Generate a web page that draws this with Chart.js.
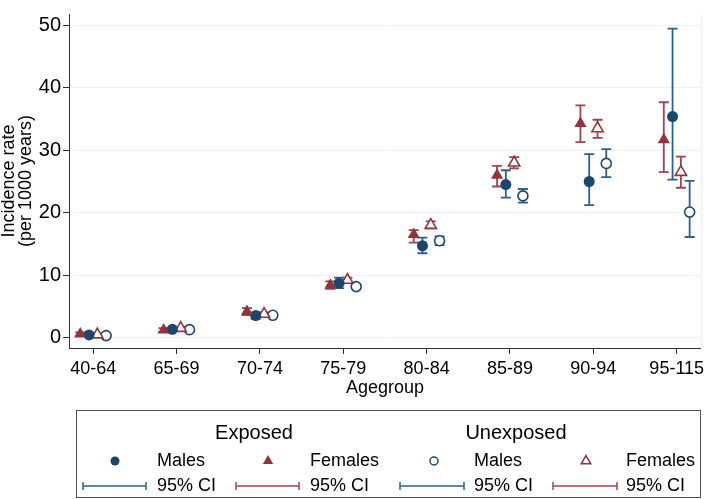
<!DOCTYPE html>
<html>
<head>
<meta charset="utf-8">
<script src="https://cdn.jsdelivr.net/npm/chart.js@4.4.1/dist/chart.umd.min.js"></script>
<style>
  html, body { margin: 0; padding: 0; background: #fff; }
  canvas { display: block; }
</style>
</head>
<body>
<canvas id="rateChart" width="709" height="499"></canvas>
<script>
// ---------- data ----------
const ageGroups = ["40-64", "65-69", "70-74", "75-79", "80-84", "85-89", "90-94", "95-115"];
const yTickValues = [0, 10, 20, 30, 40, 50];

const exposedMales     = [0.4, 1.3, 3.5, 8.7, 14.7, 24.5, 25.0, 35.4];
const exposedMalesLo   = [0.2, 1.0, 3.0, 7.9, 13.5, 22.4, 21.2, 25.3];
const exposedMalesHi   = [0.6, 1.6, 4.0, 9.6, 16.0, 26.8, 29.4, 49.5];

const exposedFemales   = [0.55, 1.2, 4.15, 8.35, 16.5, 26.0, 34.3, 31.7];
const exposedFemalesLo = [0.3, 0.9, 3.6, 7.8, 15.2, 24.2, 31.3, 26.5];
const exposedFemalesHi = [0.8, 1.5, 4.7, 9.0, 17.2, 27.5, 37.2, 37.7];

const unexposedMales     = [0.3, 1.25, 3.55, 8.15, 15.5, 22.7, 27.9, 20.1];
const unexposedMalesLo   = [0.25, 1.1, 3.35, 7.9, 14.8, 21.6, 25.7, 16.1];
const unexposedMalesHi   = [0.35, 1.4, 3.75, 8.45, 16.2, 23.8, 30.2, 25.1];

const unexposedFemales   = [0.45, 1.5, 3.75, 9.2, 18.0, 28.0, 33.5, 26.5];
const unexposedFemalesLo = [0.35, 1.3, 3.5, 8.8, 17.5, 27.1, 32.0, 24.0];
const unexposedFemalesHi = [0.55, 1.7, 4.0, 9.6, 18.6, 28.9, 34.9, 29.0];

const NAVY = "#1a476f";
const MAROON = "#90353b";
const NAVY_CI = "#2f5f8c";
const MAROON_CI = "#a0454c";
const FONT = '"Liberation Sans", Arial, Helvetica, sans-serif';

// builds one scatter dataset, markers shifted a bit around each age group
const makeSeries = (label, values, lo, hi, offset, style) => ({
  label: label,
  data: values.map((v, i) => ({ x: i + offset, y: v })),
  errLo: lo,
  errHi: hi,
  errColor: style.errColor,
  pointStyle: style.pointStyle,
  pointRadius: style.radius,
  pointHoverRadius: style.radius,
  backgroundColor: style.fill,
  borderColor: style.stroke,
  borderWidth: style.borderWidth,
  showLine: false,
});

// ---------- error bars (drawn under the markers) ----------
const errorBars = {
  id: "errorBars",
  beforeDatasetsDraw(chart) {
    const { ctx, scales: { x, y } } = chart;
    ctx.save();
    ctx.lineWidth = 1.8;
    chart.data.datasets.forEach((ds) => {
      ctx.strokeStyle = ds.errColor;
      ds.data.forEach((pt, i) => {
        const px = x.getPixelForValue(pt.x);
        const yLo = y.getPixelForValue(ds.errLo[i]);
        const yHi = y.getPixelForValue(ds.errHi[i]);
        ctx.beginPath();
        ctx.moveTo(px, yLo); ctx.lineTo(px, yHi);
        ctx.moveTo(px - 5, yLo); ctx.lineTo(px + 5, yLo);
        ctx.moveTo(px - 5, yHi); ctx.lineTo(px + 5, yHi);
        ctx.stroke();
      });
    });
    // faint right border of the plot region
    const a = chart.chartArea;
    ctx.strokeStyle = "#e4eef0";
    ctx.lineWidth = 1;
    ctx.beginPath();
    ctx.moveTo(a.right + 0.5, a.top); ctx.lineTo(a.right + 0.5, a.bottom);
    ctx.stroke();
    ctx.restore();
  },
};

// ---------- Stata style legend box ----------
const legendBox = {
  id: "legendBox",
  afterDraw(chart) {
    const ctx = chart.ctx;
    const H = Chart.helpers;
    ctx.save();
    ctx.strokeStyle = "#555";
    ctx.lineWidth = 1;
    ctx.strokeRect(76.5, 410.5, 624, 87);

    ctx.fillStyle = "#000";
    ctx.textBaseline = "middle";
    ctx.textAlign = "center";
    ctx.font = "20px " + FONT;
    ctx.fillText("Exposed", 254, 433);
    ctx.fillText("Unexposed", 516, 433);

    ctx.textAlign = "left";
    ctx.font = "18px " + FONT;
    const rowY = 461, ciY = 486;
    const cols = [
      { mx: 115, tx: 157, name: "Males", style: "circle", r: 4.5, fill: NAVY, stroke: NAVY, bw: 0, ci: NAVY_CI, l0: 83, l1: 146 },
      { mx: 268, tx: 310, name: "Females", style: "triangle", r: 6, fill: MAROON, stroke: MAROON, bw: 0, ci: MAROON_CI, l0: 236, l1: 299 },
      { mx: 434, tx: 474, name: "Males", style: "circle", r: 4, fill: "#fff", stroke: NAVY, bw: 1.5, ci: NAVY_CI, l0: 400, l1: 464 },
      { mx: 586, tx: 626, name: "Females", style: "triangle", r: 5.5, fill: "#fff", stroke: MAROON, bw: 1.5, ci: MAROON_CI, l0: 553, l1: 617 },
    ];
    cols.forEach((c) => {
      ctx.fillStyle = c.fill;
      ctx.strokeStyle = c.stroke;
      ctx.lineWidth = c.bw;
      H.drawPoint(ctx, { pointStyle: c.style, radius: c.r, rotation: 0, borderWidth: c.bw }, c.mx, rowY);
      ctx.fillStyle = "#000";
      ctx.fillText(c.name, c.tx, rowY);

      ctx.strokeStyle = c.ci;
      ctx.lineWidth = 1.5;
      ctx.beginPath();
      ctx.moveTo(c.l0, ciY); ctx.lineTo(c.l1, ciY);
      ctx.moveTo(c.l0, ciY - 4); ctx.lineTo(c.l0, ciY + 4);
      ctx.moveTo(c.l1, ciY - 4); ctx.lineTo(c.l1, ciY + 4);
      ctx.stroke();
      ctx.fillText("95% CI", c.tx, ciY);
    });
    ctx.restore();
  },
};

const datasets = [
  makeSeries("Exposed Females", exposedFemales, exposedFemalesLo, exposedFemalesHi, -0.155,
    { pointStyle: "triangle", radius: 7, fill: MAROON, stroke: MAROON, borderWidth: 0, errColor: MAROON_CI }),
  makeSeries("Exposed Males", exposedMales, exposedMalesLo, exposedMalesHi, -0.05,
    { pointStyle: "circle", radius: 5.5, fill: NAVY, stroke: NAVY, borderWidth: 0, errColor: NAVY_CI }),
  makeSeries("Unexposed Females", unexposedFemales, unexposedFemalesLo, unexposedFemalesHi, 0.05,
    { pointStyle: "triangle", radius: 6.5, fill: "#fff", stroke: MAROON, borderWidth: 1.6, errColor: MAROON_CI }),
  makeSeries("Unexposed Males", unexposedMales, unexposedMalesLo, unexposedMalesHi, 0.155,
    { pointStyle: "circle", radius: 5, fill: "#fff", stroke: NAVY, borderWidth: 1.6, errColor: NAVY_CI }),
];

new Chart(document.getElementById("rateChart"), {
  type: "scatter",
  data: { datasets: datasets },
  plugins: [errorBars, legendBox],
  options: {
    responsive: false,
    animation: false,
    events: [],
    layout: { padding: { top: 0, right: 5, left: 0, bottom: 100 } },
    plugins: { legend: { display: false }, tooltip: { enabled: false } },
    scales: {
      x: {
        type: "linear",
        min: -0.29,
        max: 7.29,
        afterFit: (s) => { s.height = 51; },
        afterBuildTicks: (s) => { s.ticks = ageGroups.map((_, i) => ({ value: i })); },
        ticks: {
          autoSkip: false,
          maxRotation: 0,
          padding: 4,
          color: "#000",
          font: { family: FONT, size: 18 },
          callback: (v) => ageGroups[v],
        },
        grid: { drawOnChartArea: false, tickLength: 6, tickColor: "#333", tickWidth: 1 },
        border: { color: "#333", width: 1 },
        title: {
          display: true,
          text: "Agegroup",
          color: "#000",
          font: { family: FONT, size: 18, lineHeight: 1.2 },
          padding: { top: 0, bottom: 0 },
        },
      },
      y: {
        min: -1.69,
        max: 51.85,
        afterFit: (s) => { s.width = 69; },
        afterBuildTicks: (s) => { s.ticks = yTickValues.map((v) => ({ value: v })); },
        ticks: {
          padding: 2,
          color: "#000",
          font: { family: FONT, size: 20 },
        },
        grid: { color: "#eaf2f3", lineWidth: 1, tickLength: 6, tickColor: "#333" },
        border: { color: "#333", width: 1 },
        title: {
          display: true,
          text: ["Incidence rate", "(per 1000 years)"],
          color: "#000",
          font: { family: FONT, size: 18, lineHeight: 0.95 },
          padding: { top: 0, bottom: 0 },
        },
      },
    },
  },
});
</script>
</body>
</html>
